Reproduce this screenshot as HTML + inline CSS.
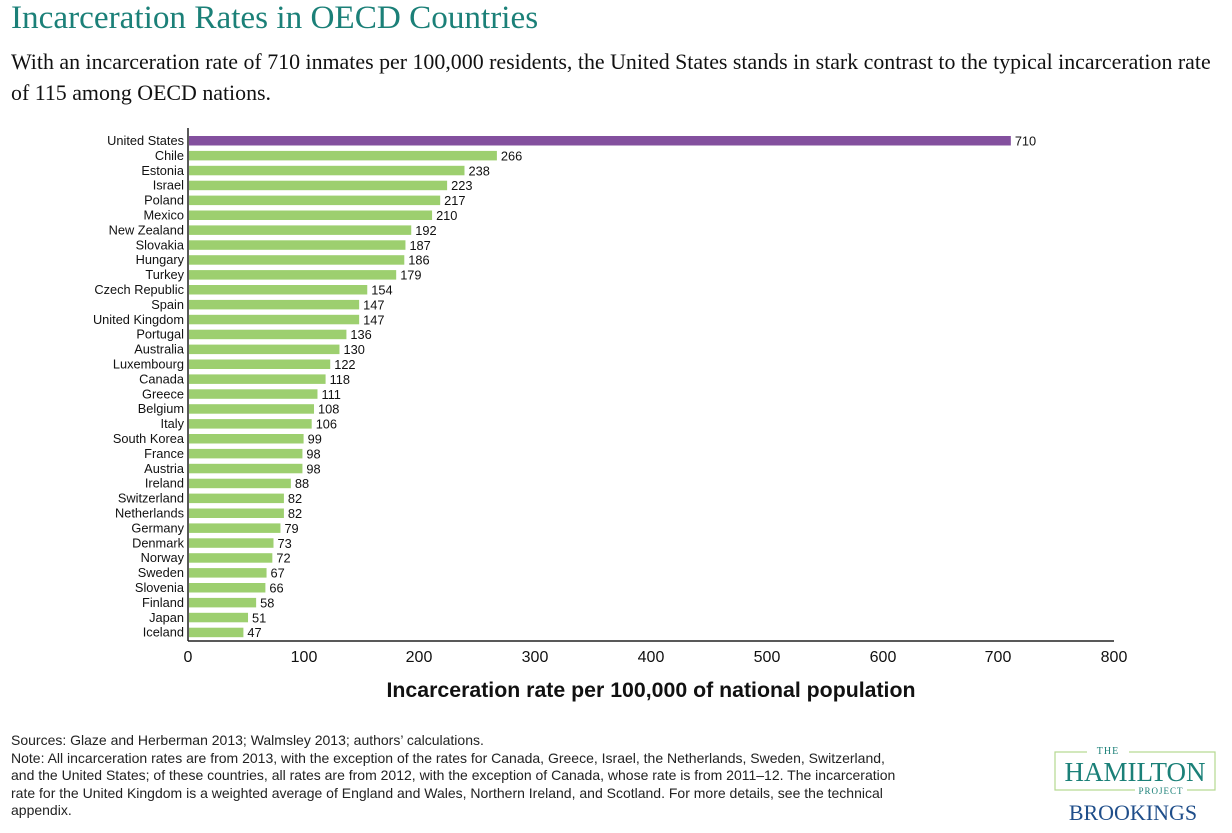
<!DOCTYPE html>
<html><head><style>
body{margin:0;width:1232px;height:833px;background:#fff;overflow:hidden;position:relative;font-family:"Liberation Sans",sans-serif}
.t{position:absolute;left:11px;top:-1px;font-family:"Liberation Serif",serif;font-size:33.2px;color:#1b8078}
.s{position:absolute;left:11px;top:46px;width:1221px;font-family:"Liberation Serif",serif;font-size:21.9px;line-height:31px;color:#111;white-space:nowrap}
.n{position:absolute;left:11px;top:732px;width:960px;font-size:14px;line-height:17.5px;color:#222;white-space:nowrap}
</style></head><body>
<div class="t">Incarceration Rates in OECD Countries</div>
<div class="s">With an incarceration rate of 710 inmates per 100,000 residents, the United States stands in stark contrast to the typical incarceration rate<br>of 115 among OECD nations.</div>
<svg width="1232" height="833" style="position:absolute;left:0;top:0" font-family="Liberation Sans, sans-serif">
<g id="bars"></g>
<line x1="188" y1="128" x2="188" y2="641" stroke="#222" stroke-width="1.5"/>
<line x1="188" y1="641" x2="1114" y2="641" stroke="#222" stroke-width="1.5"/>
<g font-size="16" fill="#111" text-anchor="middle">
<text x="188" y="662">0</text><text x="304" y="662">100</text><text x="419" y="662">200</text><text x="535" y="662">300</text><text x="651" y="662">400</text><text x="767" y="662">500</text><text x="883" y="662">600</text><text x="998" y="662">700</text><text x="1114" y="662">800</text>
</g>
<text x="651" y="697" font-size="21.3" font-weight="bold" fill="#111" text-anchor="middle">Incarceration rate per 100,000 of national population</text>
<rect x="1055" y="752" width="160" height="38" fill="none" stroke="#b5d88f" stroke-width="1.2"/>
<rect x="1087" y="745" width="42" height="12" fill="#fff"/>
<text x="1108" y="754" font-family="Liberation Serif,serif" font-size="10" fill="#1b8078" text-anchor="middle" letter-spacing="1">THE</text>
<text x="1135" y="781" font-family="Liberation Serif,serif" font-size="27" fill="#1b8078" text-anchor="middle">HAMILTON</text>
<rect x="1135" y="785" width="52" height="10" fill="#fff"/>
<text x="1161" y="794" font-family="Liberation Serif,serif" font-size="9" fill="#1b8078" text-anchor="middle" letter-spacing="1">PROJECT</text>
<text x="1133" y="820" font-family="Liberation Serif,serif" font-size="22" fill="#1f4e8a" text-anchor="middle">BROOKINGS</text>
</svg>
<div class="n">Sources: Glaze and Herberman 2013; Walmsley 2013; authors’ calculations.<br>Note: All incarceration rates are from 2013, with the exception of the rates for Canada, Greece, Israel, the Netherlands, Sweden, Switzerland,<br>and the United States; of these countries, all rates are from 2012, with the exception of Canada, whose rate is from 2011–12. The incarceration<br>rate for the United Kingdom is a weighted average of England and Wales, Northern Ireland, and Scotland. For more details, see the technical<br>appendix.</div>
<script>
var d=[["United States",710],["Chile",266],["Estonia",238],["Israel",223],["Poland",217],["Mexico",210],["New Zealand",192],["Slovakia",187],["Hungary",186],["Turkey",179],["Czech Republic",154],["Spain",147],["United Kingdom",147],["Portugal",136],["Australia",130],["Luxembourg",122],["Canada",118],["Greece",111],["Belgium",108],["Italy",106],["South Korea",99],["France",98],["Austria",98],["Ireland",88],["Switzerland",82],["Netherlands",82],["Germany",79],["Denmark",73],["Norway",72],["Sweden",67],["Slovenia",66],["Finland",58],["Japan",51],["Iceland",47]];
var s="";d.forEach(function(r,i){var y=136+i*14.9,w=r[1]*1.1575;
s+='<rect x="189" y="'+y+'" width="'+w+'" height="9.5" fill="'+(i?"#9dcf6f":"#83509e")+'"/>';
s+='<text x="184" y="'+(y+9)+'" font-size="12.8" fill="#111" text-anchor="end">'+r[0]+'</text>';
s+='<text x="'+(193+w)+'" y="'+(y+9.5)+'" font-size="12.8" fill="#111">'+r[1]+'</text>';});
document.getElementById("bars").innerHTML=s;
</script>
</body></html>
